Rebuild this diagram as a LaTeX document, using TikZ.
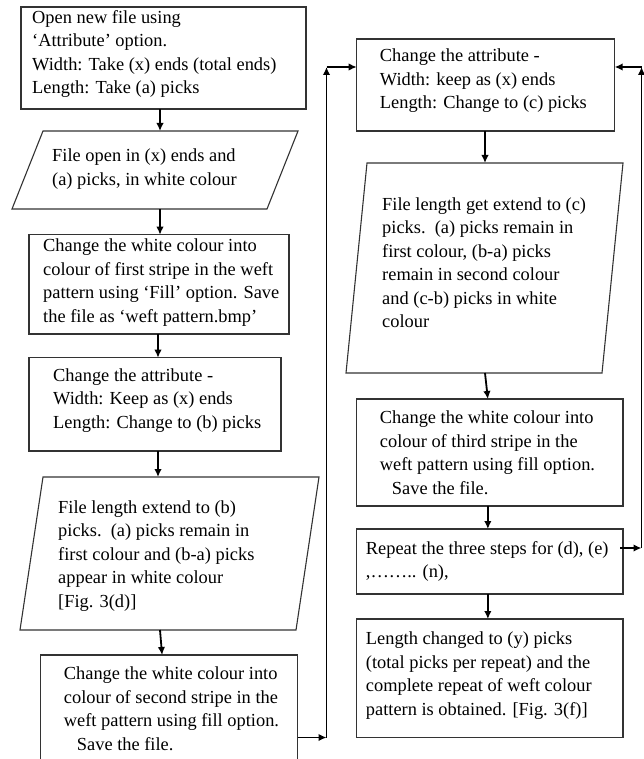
\documentclass[tikz,border=0pt]{standalone}
\usepackage{fontspec}
\setmainfont{Liberation Serif}
\usetikzlibrary{arrows.meta,calc}
\begin{document}
\begin{tikzpicture}[x=1pt,y=-1pt,
  boxnode/.style={draw=black!80,line width=1.1pt,rectangle,inner sep=0pt,outer sep=0pt},
  parnode/.style={rectangle,inner sep=0pt,outer sep=0pt},
  parline/.style={draw=black!80,line width=1.1pt},
  txt/.style={anchor=west,align=left,inner sep=0pt,font=\fontsize{18.4}{23.5}\selectfont},
  arr/.style={line width=1.8pt,-{Latex[length=8pt,width=7.5pt]}},
  seg/.style={line width=1.8pt}]
\useasboundingbox (0,0) rectangle (644,759);
\clip (0,0) rectangle (644,759);
\fill[white] (0,0) rectangle (644,759);
% left column
\node[boxnode,minimum width=285,minimum height=102] (b1) at (163.5,58) {};
\node[parnode,minimum width=286,minimum height=78] (p1) at (155,170) {};
\draw[parline] (p1.south west) -- ($(p1.north west)+(31,0)$) -- (p1.north east) -- ($(p1.south east)+(-31,0)$) -- cycle;
\node[boxnode,minimum width=260,minimum height=99.3] (b3) at (159,284.35) {};
\node[boxnode,minimum width=252,minimum height=93.3] (b4) at (155,404.35) {};
\node[parnode,minimum width=299,minimum height=153] (p2) at (169.5,553.5) {};
\draw[parline] (p2.south west) -- ($(p2.north west)+(23,0)$) -- (p2.north east) -- ($(p2.south east)+(-23,0)$) -- cycle;
\node[boxnode,minimum width=256.8,minimum height=113] (b5) at (169.1,711.5) {};
% right column
\node[boxnode,minimum width=258,minimum height=92] (b6) at (485.7,85) {};
\node[parnode,minimum width=277,minimum height=210] (p3) at (484.5,268) {};
\draw[parline] (p3.south west) -- ($(p3.north west)+(21,0)$) -- (p3.north east) -- ($(p3.south east)+(-21,0)$) -- cycle;
\node[boxnode,minimum width=266.3,minimum height=107] (b7) at (489.85,452.5) {};
\node[boxnode,minimum width=266.3,minimum height=65] (b8) at (489.85,561.5) {};
\node[boxnode,minimum width=266.3,minimum height=118.7] (b9) at (489.85,678.35) {};
% texts
\node[txt] (t1) at ($(b1.west)+(11,-4)$) {Open new file using\\‘Attribute’ option.\\Width: Take (x) ends (total ends)\\Length: Take (a) picks};
\node[txt] (tp1) at ($(p1.west)+(40,-1)$) {File open in (x) ends and\\(a) picks, in white colour};
\node[txt] (t3) at ($(b3.west)+(14,-2)$) {Change the white colour into\\colour of first stripe in the weft\\pattern using ‘Fill’ option. Save\\the file as ‘weft pattern.bmp’};
\node[txt] (t4) at ($(b4.west)+(24,-4)$) {Change the attribute -\\Width: Keep as (x) ends\\Length: Change to (b) picks};
\node[txt] (tp2) at ($(p2.west)+(38,2.5)$) {File length extend to (b)\\picks.\ \ (a) picks remain in\\first colour and (b-a) picks\\appear in white colour\\{[}Fig. 3(d)]};
\node[txt] (t5) at ($(b5.west)+(23,-3)$) {Change the white colour into\\colour of second stripe in the\\weft pattern using fill option.\\\hspace*{13pt}Save the file.};
\node[txt] (t6) at ($(b6.west)+(23,-4)$) {Change the attribute -\\Width: keep as (x) ends\\Length: Change to (c) picks};
\node[txt] (tp3) at ($(p3.west)+(36,-5.5)$) {File length get extend to (c)\\picks.\ \ (a) picks remain in\\first colour, (b-a) picks\\remain in second colour\\and (c-b) picks in white\\colour};
\node[txt] (t7) at ($(b7.west)+(23,0)$) {Change the white colour into\\colour of third stripe in the\\weft pattern using fill option.\\\hspace*{12pt}Save the file.};
\node[txt] (t8) at ($(b8.west)+(9,0)$) {Repeat the three steps for (d), (e)\\,…….. (n),};
\node[txt] (t9) at ($(b9.west)+(9,-3)$) {Length changed to (y) picks\\(total picks per repeat) and the\\complete repeat of weft colour\\pattern is obtained. [Fig. 3(f)]};
% vertical connectors
\draw[arr] ($(b1.south)+(-3.5,0)$) -- ($(p1.north)+(5,0)$);
\draw[arr] ($(p1.south)+(5,0)$) -- ($(b3.north)+(1,0)$);
\draw[arr] ($(b3.south)+(-1,0)$) -- ($(b4.north)+(3,0)$);
\draw[arr] ($(b4.south)+(3,0)$) -- ($(p2.north)+(-11.5,0)$);
\draw[arr] ($(p2.south)+(-9.5,0)$) -- ($(b5.north)+(-7,0)$);
\draw[arr] ($(b6.south)+(-0.7,0)$) -- ($(p3.north)+(0.5,0)$);
\draw[arr] ($(p3.south)+(0.5,0)$) -- ($(b7.north)+(-2,0)$);
\draw[arr] ($(b7.south)+(-2,0)$) -- ($(b8.north)+(-2,0)$);
\draw[arr] ($(b8.south)+(-2,0)$) -- ($(b9.north)+(-2,0)$);
% loop connectors
\coordinate (lb) at (326.5,737.5);
\coordinate (lt) at (326.5,67);
\coordinate (rb) at (641.5,548);
\coordinate (rt) at (641.5,67);
\draw[arr] ($(b5.east)+(0,26)$) -- (lb);
\draw[arr] (lb) -- (lt);
\draw[arr] (lt) -- (lt -| b6.west);
\draw[arr] ($(b8.east)+(-3,-13.5)$) -- (rb);
\draw[arr] (rb) -- (rt);
\draw[arr] (rt) -- (rt -| b6.east);
\end{tikzpicture}
\end{document}
